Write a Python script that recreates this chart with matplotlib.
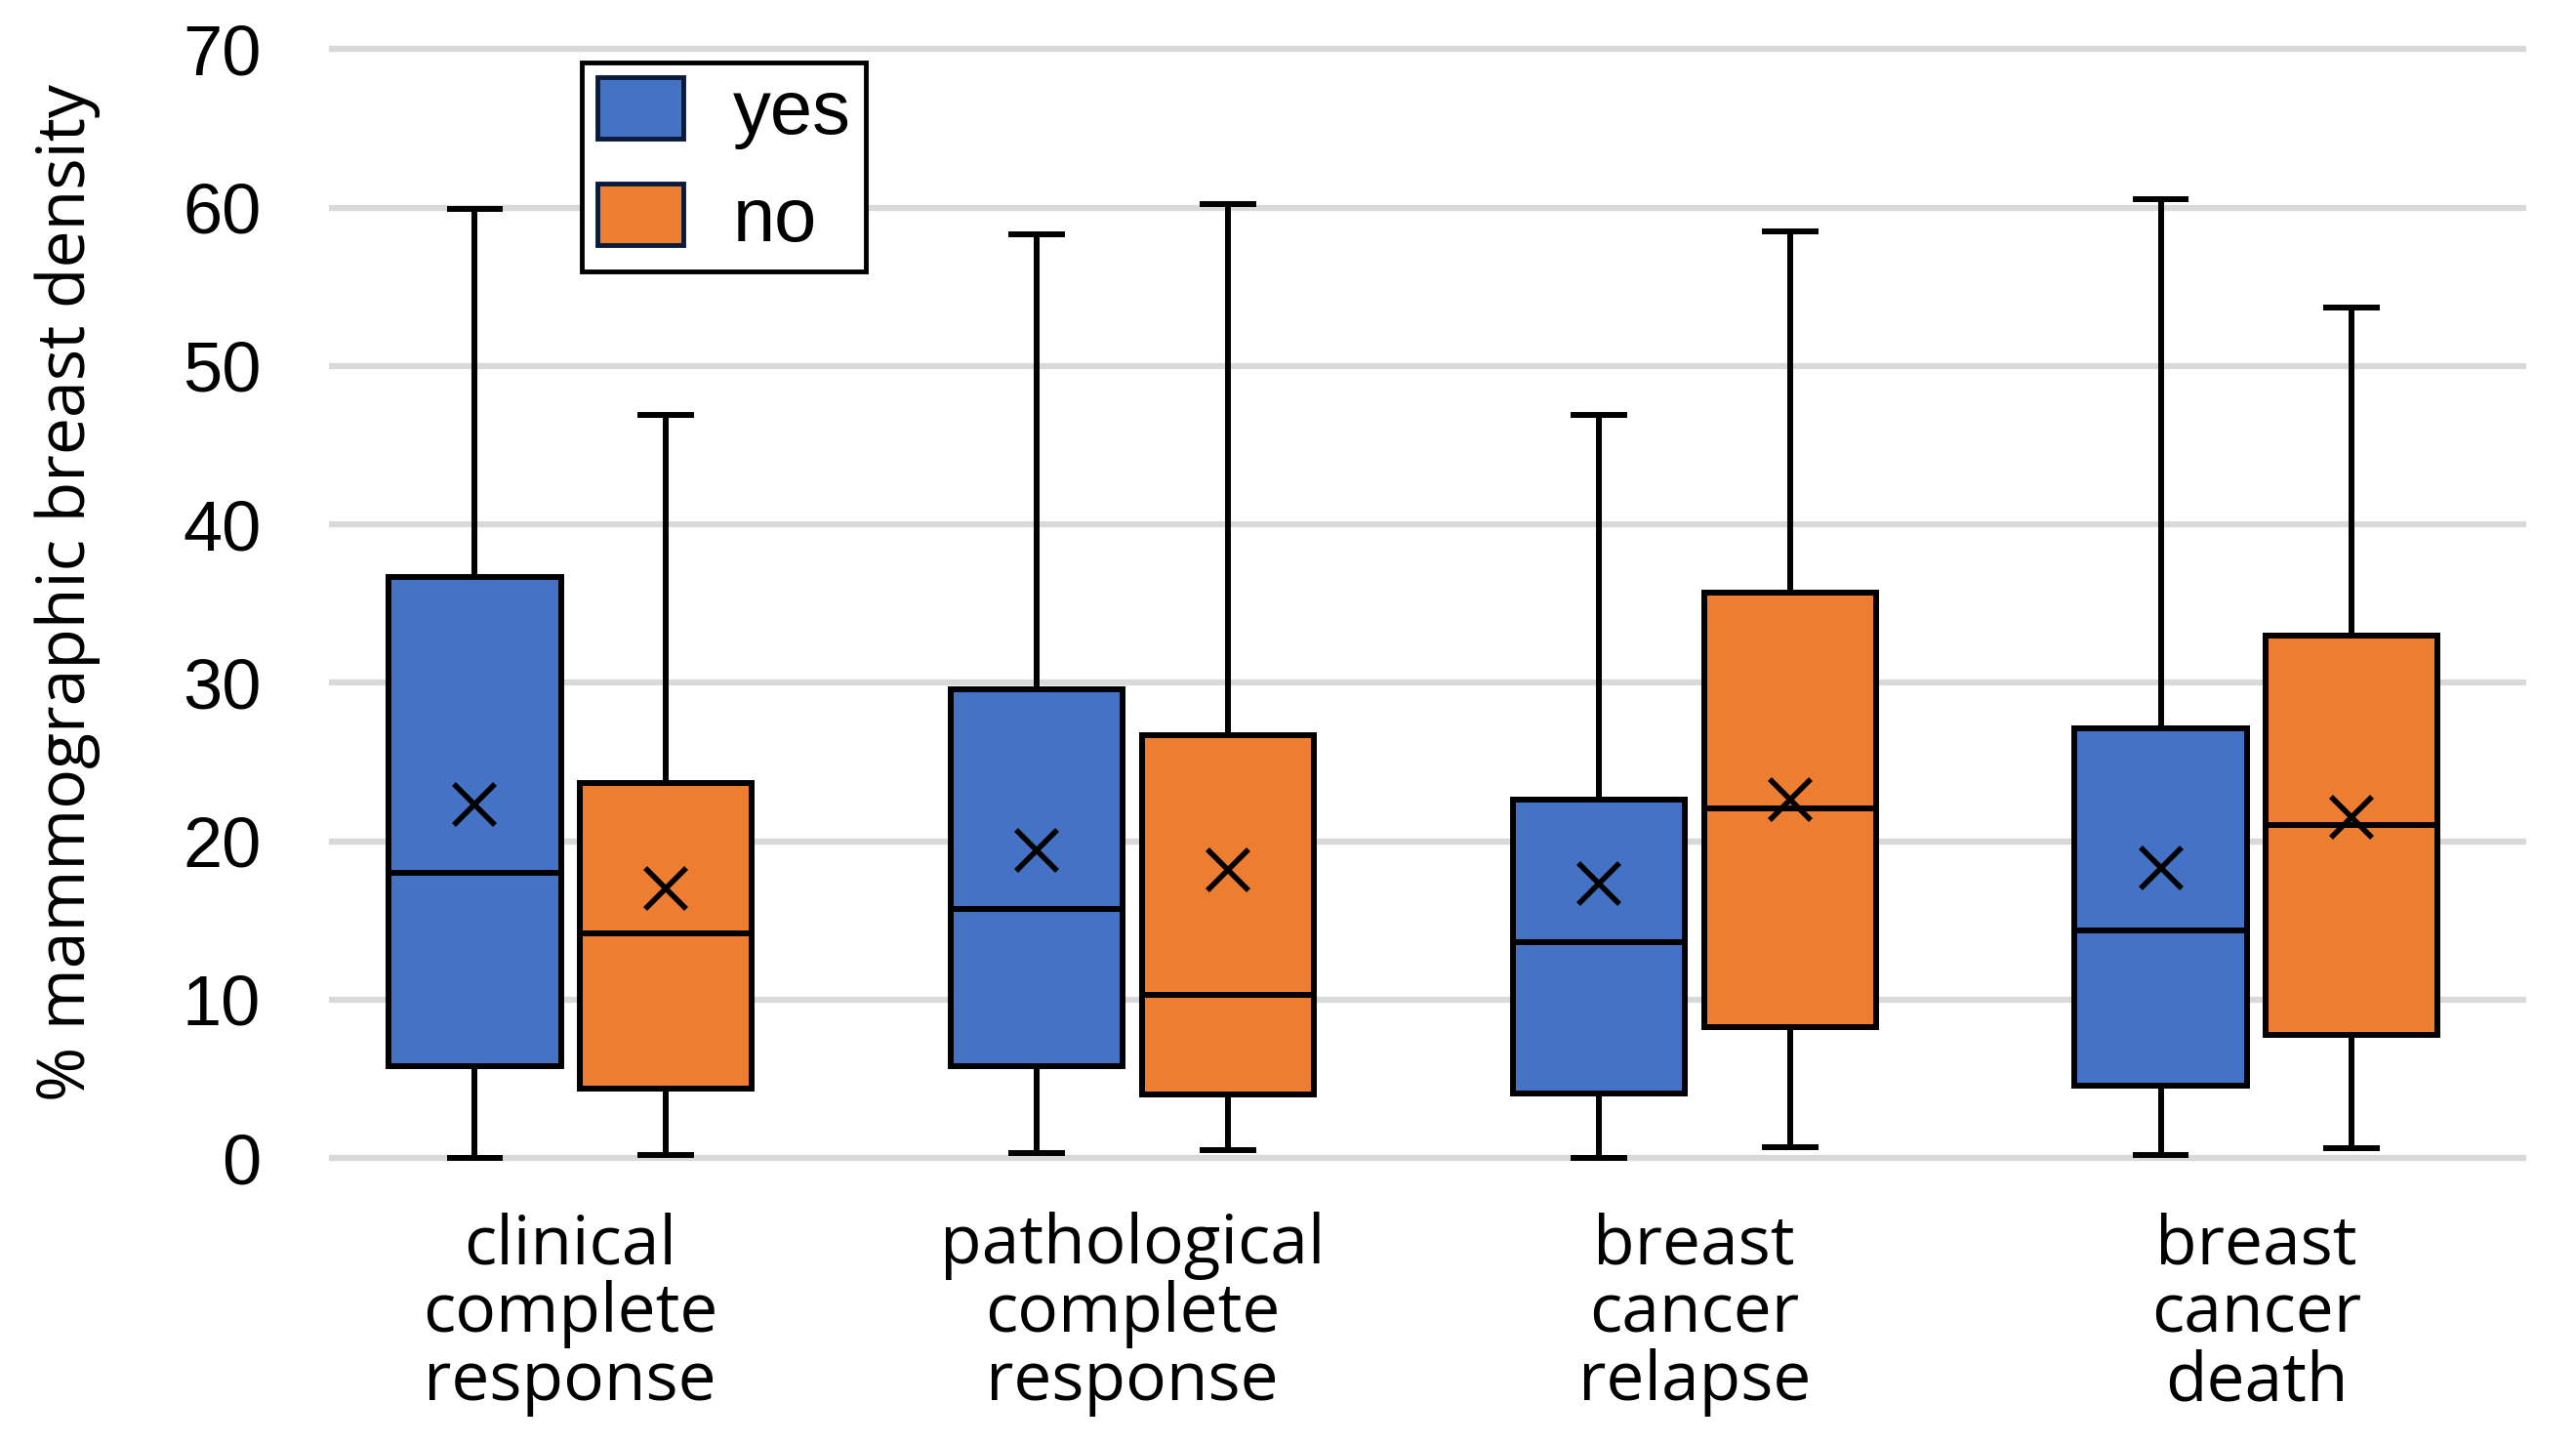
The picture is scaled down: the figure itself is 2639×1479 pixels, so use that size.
import matplotlib.pyplot as plt

categories = ["clinical\ncomplete\nresponse", "pathological\ncomplete\nresponse",
              "breast\ncancer\nrelapse", "breast\ncancer\ndeath"]

# box statistics, per category
yes_low = [0.0, 0.3, 0.0, 0.2]
yes_q1 = [5.8, 5.8, 4.1, 4.6]
yes_med = [18.0, 15.7, 13.6, 14.4]
yes_q3 = [36.7, 29.6, 22.6, 27.1]
yes_high = [59.9, 58.3, 46.9, 60.5]
yes_mean = [22.3, 19.4, 17.3, 18.3]

no_low = [0.2, 0.5, 0.7, 0.6]
no_q1 = [4.4, 4.0, 8.3, 7.8]
no_med = [14.2, 10.3, 22.1, 21.0]
no_q3 = [23.7, 26.7, 35.7, 33.0]
no_high = [46.9, 60.2, 58.5, 53.7]
no_mean = [17.0, 18.2, 22.6, 21.5]

blue = "#4472C4"
orange = "#ED7D31"


def stats(low, q1, med, q3, high, mean):
    return [dict(whislo=a, q1=b, med=c, q3=d, whishi=e, mean=f, fliers=[])
            for a, b, c, d, e, f in zip(low, q1, med, q3, high, mean)]


fig = plt.figure(figsize=(26.39, 14.79), dpi=100)
ax = fig.add_axes([0.1276, 0.187, 0.853, 0.790])

lw = 4.3
groups = range(len(categories))
for st, off, col in [(stats(yes_low, yes_q1, yes_med, yes_q3, yes_high, yes_mean), -0.17, blue),
                     (stats(no_low, no_q1, no_med, no_q3, no_high, no_mean), 0.17, orange)]:
    ax.bxp(st, positions=[g + off for g in groups], widths=0.306, patch_artist=True,
           showmeans=True, showfliers=False, capwidths=0.09,
           boxprops=dict(facecolor=col, edgecolor="black", linewidth=lw),
           medianprops=dict(color="black", linewidth=lw),
           whiskerprops=dict(color="black", linewidth=lw),
           capprops=dict(color="black", linewidth=lw),
           meanprops=dict(marker="x", markeredgecolor="black", markersize=30,
                          markeredgewidth=4))

ax.set_xlim(-0.43, 3.48)
ax.set_ylim(-1, 71)
ax.set_yticks(range(0, 71, 10))
ax.yaxis.grid(True, color="#d9d9d9", linewidth=4.5)
ax.set_axisbelow(True)
for s in ax.spines.values():
    s.set_visible(False)
ax.tick_params(axis="y", length=0, pad=50, labelsize=52)
ax.tick_params(axis="x", length=0, pad=28)
ax.set_xticks(list(groups))
ax.set_xticklabels(categories, fontsize=50, family="Open Sans", linespacing=1.0)
for t in ax.get_yticklabels():
    t.set_family("Liberation Sans")
ax.set_ylabel("% mammographic breast density", fontsize=49, family="Open Sans")
ax.yaxis.set_label_coords(-0.104, 0.51)

h_yes = plt.Rectangle((0, 0), 1, 1, facecolor=blue, edgecolor="#0b1a3a", linewidth=3.5)
h_no = plt.Rectangle((0, 0), 1, 1, facecolor=orange, edgecolor="#0b1a3a", linewidth=3.5)
leg = fig.legend([h_yes, h_no], ["yes", "no"], loc="upper left", bbox_to_anchor=(0.226, 0.957),
                 prop=dict(family="Liberation Sans", size=56), fancybox=False,
                 edgecolor="black", framealpha=1, handlelength=1.13, handleheight=0.86,
                 borderpad=0.2, labelspacing=0.45, handletextpad=0.65, borderaxespad=0)
leg.get_frame().set_linewidth(3.5)

fig.savefig("out.png", dpi=100)
